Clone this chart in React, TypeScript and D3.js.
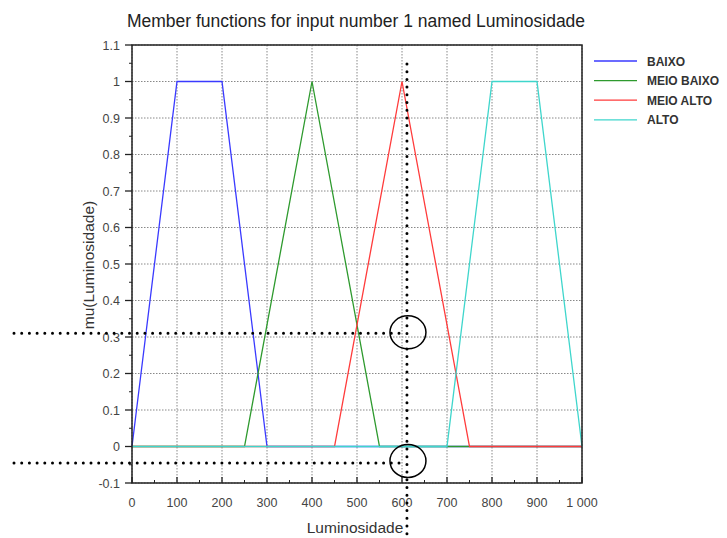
import React from "react";
import * as d3 from "d3";

const xTicks = [0, 100, 200, 300, 400, 500, 600, 700, 800, 900, 1000];
const xTickLabels = ["0", "100", "200", "300", "400", "500", "600", "700", "800", "900", "1 000"];
const yTicks = [-0.1, 0, 0.1, 0.2, 0.3, 0.4, 0.5, 0.6, 0.7, 0.8, 0.9, 1, 1.1];
const yTickLabels = ["-0.1", "0", "0.1", "0.2", "0.3", "0.4", "0.5", "0.6", "0.7", "0.8", "0.9", "1", "1.1"];

const seriesNames = ["BAIXO", "MEIO BAIXO", "MEIO ALTO", "ALTO"];
const seriesColors = ["#3a3aff", "#2e9a2e", "#ff3b3b", "#3fd6cc"];
const baixoX = [0, 100, 200, 300, 1000];
const baixoY = [0, 1, 1, 0, 0];
const meioBaixoX = [0, 250, 400, 550, 1000];
const meioBaixoY = [0, 0, 1, 0, 0];
const meioAltoX = [0, 450, 600, 750, 1000];
const meioAltoY = [0, 0, 1, 0, 0];
const altoX = [0, 700, 800, 900, 1000];
const altoY = [0, 0, 1, 1, 0];

const annotX = 611; // luminosity value of the vertical marker
const annotY = [0.31, -0.045];

export default function App() {
  const left = 132, right = 582, top = 45, bottom = 483;
  const x = d3.scaleLinear().domain([0, 1000]).range([left, right]);
  const y = d3.scaleLinear().domain([-0.1, 1.1]).range([bottom, top]);
  const line = d3.line<[number, number]>().x(d => x(d[0])).y(d => y(d[1]));
  const xs = [baixoX, meioBaixoX, meioAltoX, altoX];
  const ys = [baixoY, meioBaixoY, meioAltoY, altoY];
  const minorX = d3.range(50, 1000, 100);
  const minorY = d3.range(-0.05, 1.1, 0.1);
  const font = "'Liberation Sans', Arial, sans-serif";
  const vx = x(annotX);
  return (
    <svg width={727} height={538} style={{ position: "absolute", left: 0, top: 0, background: "#fff" }} fontFamily={font}>
      <text x={356} y={27} textAnchor="middle" fontSize={17.5} fill="#222">Member functions for input number 1 named Luminosidade</text>
      {/* grid */}
      {xTicks.map((t, i) => (
        <line key={"gx" + i} x1={x(t)} x2={x(t)} y1={top} y2={bottom} stroke="#888" strokeWidth={1} strokeDasharray="1.5 1.5" />
      ))}
      {yTicks.map((t, i) => (
        <line key={"gy" + i} x1={left} x2={right} y1={y(t)} y2={y(t)} stroke="#888" strokeWidth={1} strokeDasharray="1.5 1.5" />
      ))}
      {/* series */}
      {xs.map((xv, i) => (
        <path key={"s" + i} d={line(xv.map((v, j) => [v, ys[i][j]] as [number, number])) || ""} fill="none" stroke={seriesColors[i]} strokeWidth={1.3} />
      ))}
      {/* axes box */}
      <rect x={left} y={top} width={right - left} height={bottom - top} fill="none" stroke="#222" strokeWidth={1.5} />
      {yTicks.map((t, i) => (
        <g key={"yt" + i}>
          <line x1={left - 7} x2={left} y1={y(t)} y2={y(t)} stroke="#222" strokeWidth={1.3} />
          <text x={left - 12} y={y(t) + 4.5} textAnchor="end" fontSize={12.5} fill="#444">{yTickLabels[i]}</text>
        </g>
      ))}
      {minorY.map((t, i) => (
        <line key={"my" + i} x1={left - 3} x2={left} y1={y(t)} y2={y(t)} stroke="#222" strokeWidth={1} />
      ))}
      {xTicks.map((t, i) => (
        <g key={"xt" + i}>
          <line x1={x(t)} x2={x(t)} y1={bottom} y2={bottom - 6} stroke="#222" strokeWidth={1.3} />
          <text x={x(t)} y={bottom + 24} textAnchor="middle" fontSize={12.5} fill="#444">{xTickLabels[i]}</text>
        </g>
      ))}
      {minorX.map((t, i) => (
        <line key={"mx" + i} x1={x(t)} x2={x(t)} y1={bottom} y2={bottom - 3} stroke="#222" strokeWidth={1} />
      ))}
      <text x={355} y={533} textAnchor="middle" fontSize={15.5} fill="#333">Luminosidade</text>
      <text transform={`translate(94,265) rotate(-90)`} textAnchor="middle" fontSize={15.5} fill="#333">mu(Luminosidade)</text>
      {/* legend */}
      {seriesNames.map((n, i) => (
        <g key={"lg" + i}>
          <line x1={594} x2={637} y1={61 + i * 19.6} y2={61 + i * 19.6} stroke={seriesColors[i]} strokeWidth={1.3} />
          <text x={647} y={65.5 + i * 19.6} fontSize={12} fontWeight="bold" fill="#333">{n}</text>
        </g>
      ))}
      {/* annotations */}
      <line x1={vx} x2={vx} y1={64} y2={534} stroke="#000" strokeWidth={3} strokeLinecap="round" strokeDasharray="0 7.7" />
      <line x1={14} x2={vx - 2} y1={y(annotY[0])} y2={y(annotY[0])} stroke="#000" strokeWidth={3} strokeLinecap="round" strokeDasharray="0 7.7" />
      <line x1={14} x2={vx - 2} y1={y(annotY[1])} y2={y(annotY[1])} stroke="#000" strokeWidth={3} strokeLinecap="round" strokeDasharray="0 7.7" />
      <ellipse cx={vx + 1} cy={y(annotY[0]) - 1} rx={18} ry={16.5} fill="none" stroke="#000" strokeWidth={1.5} />
      <ellipse cx={vx + 1} cy={y(annotY[1]) - 2} rx={18} ry={16.5} fill="none" stroke="#000" strokeWidth={1.5} />
    </svg>
  );
}
